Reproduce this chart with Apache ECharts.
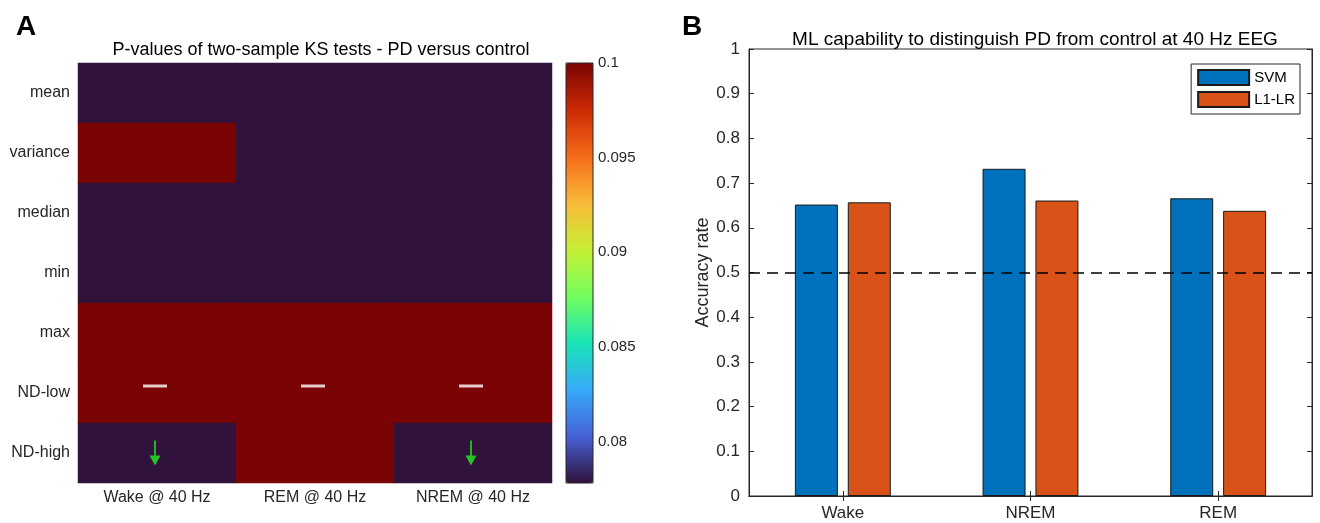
<!DOCTYPE html>
<html>
<head>
<meta charset="utf-8">
<script src="https://cdn.jsdelivr.net/npm/echarts@6/dist/echarts.min.js"></script>
<style>
html,body{margin:0;padding:0;background:#fff;}
#chart{width:1320px;height:523px;}
</style>
</head>
<body>
<div id="chart"></div>
<script>
// ---------- data ----------
const heatRows = ['mean', 'variance', 'median', 'min', 'max', 'ND-low', 'ND-high'];
const heatCols = ['Wake @ 40 Hz', 'REM @ 40 Hz', 'NREM @ 40 Hz'];
// p-values (clipped to the colour range 0.0778 .. 0.1), rows x cols
const pMatrix = [
  [0.0778, 0.0778, 0.0778],
  [0.1,    0.0778, 0.0778],
  [0.0778, 0.0778, 0.0778],
  [0.0778, 0.0778, 0.0778],
  [0.1,    0.1,    0.1],
  [0.1,    0.1,    0.1],
  [0.0778, 0.1,    0.0778]
];
const pMin = 0.0778;
const pMax = 0.1;
const colorbarTicks = [0.08, 0.085, 0.09, 0.095, 0.1];
const dashCells = [[0, 5], [1, 5], [2, 5]];   // [col, row]
const arrowCells = [[0, 6], [2, 6]];          // [col, row]

const stages = ['Wake', 'NREM', 'REM'];
const svmAcc = [0.652, 0.732, 0.666];
const l1lrAcc = [0.657, 0.661, 0.638];
const chanceLevel = 0.5;
const accTicksMin = 0, accTicksMax = 1, accTickStep = 0.1;

// turbo colormap
const turboStops = ['#30123b', '#4662d7', '#36aaf9', '#1ae4b6', '#72fe5e',
                    '#c7ef34', '#faba39', '#f66b19', '#cb2a04', '#7a0403'];

const heatData = [];
pMatrix.forEach((row, ri) => row.forEach((v, ci) => heatData.push([ci, ri, v])));

const FONT = "'Liberation Sans', Arial, Helvetica, sans-serif";
const AX = '#262626';

const chart = echarts.init(document.getElementById('chart'), null, {renderer: 'canvas'});

const option = {
  backgroundColor: '#fff',
  animation: false,
  textStyle: {fontFamily: FONT},
  title: [
    {text: 'A', left: 11, top: 8, textStyle: {fontFamily: FONT, fontSize: 28, fontWeight: 'bold', color: '#000'}},
    {text: 'P-values of two-sample KS tests - PD versus control', left: 316, top: 36, textAlign: 'center',
     textStyle: {fontFamily: FONT, fontSize: 18, fontWeight: 'normal', color: '#000'}},
    {text: 'B', left: 677, top: 8, textStyle: {fontFamily: FONT, fontSize: 28, fontWeight: 'bold', color: '#000'}},
    {text: 'ML capability to distinguish PD from control at 40 Hz EEG', left: 1030, top: 25, textAlign: 'center',
     textStyle: {fontFamily: FONT, fontSize: 19, fontWeight: 'normal', color: '#000'}}
  ],
  grid: [
    {left: 78, top: 63, width: 474, height: 420, containLabel: false},
    {left: 566, top: 63, width: 27, height: 420, show: true, borderColor: AX, borderWidth: 1, backgroundColor: 'transparent', z: 5},
    {left: 749, top: 49, width: 563, height: 447, show: true, borderColor: AX, borderWidth: 1, backgroundColor: 'transparent'}
  ],
  visualMap: {
    type: 'continuous',
    seriesIndex: 0,
    min: pMin, max: pMax,
    calculable: false,
    show: true,
    left: 566, top: 63,
    itemWidth: 27, itemHeight: 420,
    padding: 0,
    text: null,
    showLabel: false,
    hoverLink: false,
    inRange: {color: turboStops}
  },
  xAxis: [
    {gridIndex: 0, type: 'category', data: heatCols, axisLine: {show: false}, axisTick: {show: false},
     axisLabel: {fontSize: 16, color: AX, margin: 7, fontFamily: FONT}, splitLine: {show: false}},
    {gridIndex: 1, type: 'category', data: [''], show: false},
    {gridIndex: 2, type: 'category', data: stages,
     axisLine: {show: true, lineStyle: {color: AX, width: 1}},
     axisTick: {show: true, inside: true, alignWithLabel: true, length: 5, lineStyle: {color: AX}},
     axisLabel: {fontSize: 17, color: AX, margin: 9, fontFamily: FONT}},
    {gridIndex: 2, type: 'category', data: stages, position: 'top',
     axisLine: {show: true, lineStyle: {color: AX, width: 1}},
     axisTick: {show: true, inside: true, alignWithLabel: true, length: 5, lineStyle: {color: AX}},
     axisLabel: {show: false}}
  ],
  yAxis: [
    {gridIndex: 0, type: 'category', data: heatRows, inverse: true, axisLine: {show: false}, axisTick: {show: false},
     axisLabel: {fontSize: 16, color: AX, margin: 8, fontFamily: FONT}, splitLine: {show: false}},
    {gridIndex: 1, type: 'value', min: pMin, max: pMax, position: 'right',
     axisLine: {show: false},
     axisTick: {show: true, inside: true, length: 3, customValues: colorbarTicks, lineStyle: {color: AX}},
     axisLabel: {show: true, customValues: colorbarTicks, fontSize: 15, color: AX, margin: 5, fontFamily: FONT,
                 formatter: v => String(+(+v).toFixed(3))},
     splitLine: {show: false}},
    {gridIndex: 2, type: 'value', min: accTicksMin, max: accTicksMax, interval: accTickStep,
     name: 'Accuracy rate', nameLocation: 'middle', nameGap: 36,
     nameTextStyle: {fontSize: 18, color: AX, fontFamily: FONT},
     axisLine: {show: true, lineStyle: {color: AX, width: 1}},
     axisTick: {show: true, inside: true, length: 5, lineStyle: {color: AX}},
     axisLabel: {fontSize: 17, color: AX, margin: 9, fontFamily: FONT, formatter: v => String(+(+v).toFixed(1))},
     splitLine: {show: false}},
    {gridIndex: 2, type: 'value', min: accTicksMin, max: accTicksMax, interval: accTickStep, position: 'right',
     axisLine: {show: true, lineStyle: {color: AX, width: 1}},
     axisTick: {show: true, inside: true, length: 5, lineStyle: {color: AX}},
     axisLabel: {show: false}, splitLine: {show: false}}
  ],
  legend: {
    orient: 'vertical',
    right: 20, top: 64,
    data: ['SVM', 'L1-LR'],
    icon: 'rect',
    itemWidth: 51, itemHeight: 15, itemGap: 5,
    padding: [5, 5, 6, 6],
    borderColor: AX, borderWidth: 1, backgroundColor: '#fff',
    textStyle: {fontSize: 15, color: '#000', fontFamily: FONT, padding: [0, 0, 0, 0]}
  },
  series: [
    {
      type: 'heatmap', xAxisIndex: 0, yAxisIndex: 0, data: heatData,
      itemStyle: {borderWidth: 0}, silent: true
    },
    {
      type: 'scatter', xAxisIndex: 0, yAxisIndex: 0,
      data: dashCells, symbol: 'rect', symbolSize: [24, 3], symbolOffset: [-2, -7],
      itemStyle: {color: '#ffffff'}, silent: true, z: 5
    },
    {
      type: 'scatter', xAxisIndex: 0, yAxisIndex: 0,
      data: arrowCells,
      symbol: 'path://M5,0 L7,0 L7,15 L12,15 L6,25 L0,15 L5,15 Z',
      symbolSize: [11, 25], symbolOffset: [-2, 0], symbolKeepAspect: false,
      itemStyle: {color: '#22f022'}, silent: true, z: 5
    },
    {
      name: 'SVM', type: 'bar', xAxisIndex: 2, yAxisIndex: 2, data: svmAcc,
      barWidth: 43, barGap: '23%',
      itemStyle: {color: '#0072bd', borderColor: '#1a1a1a', borderWidth: 1},
      markLine: {
        silent: true, symbol: ['none', 'none'], label: {show: false},
        lineStyle: {color: '#000', type: [11, 7], width: 1.6},
        data: [{yAxis: chanceLevel}]
      }
    },
    {
      name: 'L1-LR', type: 'bar', xAxisIndex: 2, yAxisIndex: 2, data: l1lrAcc,
      barWidth: 43, barGap: '23%',
      itemStyle: {color: '#d95319', borderColor: '#1a1a1a', borderWidth: 1}
    }
  ]
};
chart.setOption(option);
</script>
</body>
</html>
